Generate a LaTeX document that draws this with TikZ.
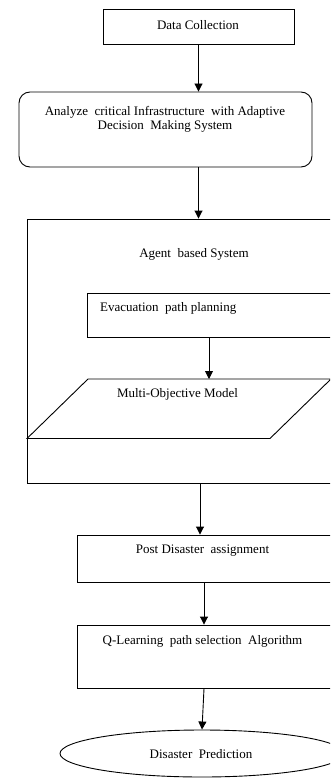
\documentclass[tikz,border=0pt]{standalone}
\usepackage{fontspec}
\setmainfont{Liberation Serif}
\usetikzlibrary{arrows.meta,shapes.geometric}
\begin{document}
\begin{tikzpicture}[x=1pt,y=-1pt,
  every node/.style={font=\fontsize{13}{14}\selectfont, inner sep=0pt},
  boxshape/.style={draw, line width=0.9pt, anchor=north west, minimum width=#1},
  txt/.style={text=black},
  arr/.style={draw, line width=0.9pt, -{Triangle[length=8pt,width=8pt]}}]
\useasboundingbox (0,0) rectangle (330,778);
\clip (0,0) rectangle (330,778);
% Data Collection
\node[draw, line width=0.9pt, minimum width=191pt, minimum height=35pt] (dc) at (198.5,26.5) {};
\node[txt] (dct) at (198,25) {Data Collection};
% Rounded box
\node[draw, line width=0.9pt, rounded corners=11pt, minimum width=293pt, minimum height=75pt] (adm) at (165.5,129.5) {};
\node[txt, align=center] (admt) at (165,119) {Analyze\ \ critical Infrastructure\ \ with Adaptive\\Decision\ \ Making System};
% Agent based system outer box
\node[draw, line width=0.9pt, minimum width=330pt, minimum height=264pt] (abs) at (192,351) {};
\node[txt] (abst) at (194,254) {Agent\ \ based System};
% Evacuation path planning
\node[draw, line width=0.9pt, minimum width=270pt, minimum height=44pt] (evac) at (222,315) {};
\node[txt, anchor=west] (evact) at (100,308) {Evacuation\ \ path planning};
% Multi-Objective Model parallelogram
\coordinate (ptl) at (88,379);
\coordinate (ptr) at (331,379);
\coordinate (pbr) at (270,438.5);
\coordinate (pbl) at (27,438.5);
\draw[line width=0.9pt, line join=miter] (ptl) -- (ptr) -- (pbr) -- (pbl) -- cycle;
\coordinate (mom) at (209,379);
\node[txt] (momt) at (177.5,394) {Multi-Objective Model};
% Post disaster
\node[draw, line width=0.9pt, minimum width=280pt, minimum height=47pt] (post) at (217,558.5) {};
\node[txt] (postt) at (202.5,551) {Post Disaster\ \ assignment};
% Q-Learning
\node[draw, line width=0.9pt, minimum width=280pt, minimum height=63pt] (ql) at (217,656.5) {};
\node[txt] (qlt) at (202.5,641) {Q-Learning\ \ path selection\ \ Algorithm};
% Disaster prediction ellipse
\node[draw, line width=0.9pt, ellipse, minimum width=284pt, minimum height=47pt] (dp) at (202,753.5) {};
\node[txt] (dpt) at (201,754) {Disaster\ \ Prediction};
% connectors
\draw[arr] (dc.south) -- (dc.south |- adm.north);
\draw[arr] (adm.south -| dc.south) -- (dc.south |- abs.north);
\draw[arr] (evac.south -| mom) -- (mom);
\draw[arr] (abs.south -| 200,0) -- (post.north -| 200,0);
\draw[arr] (post.south -| 204,0) -- (ql.north -| 204,0);
\draw[arr] (ql.south -| 204,0) -- (dp.north);
\end{tikzpicture}
\end{document}
